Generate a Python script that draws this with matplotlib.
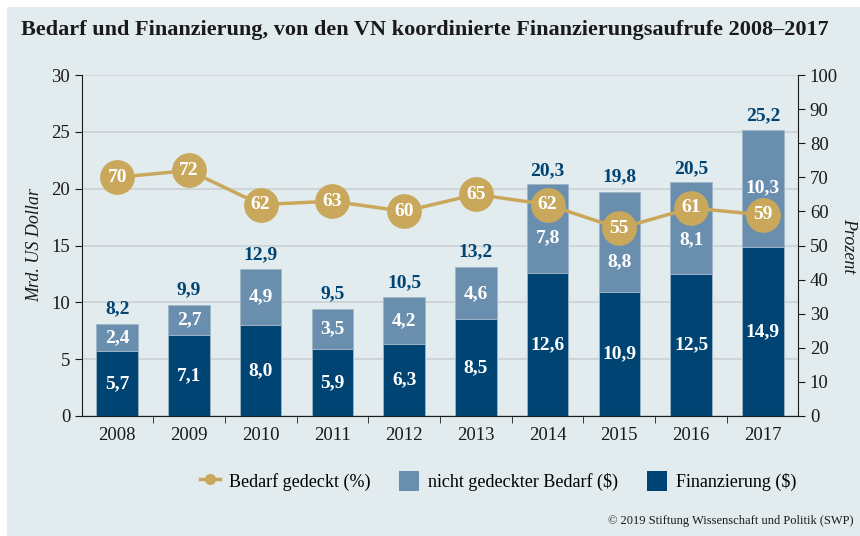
import numpy as np
import matplotlib.pyplot as plt
from matplotlib.patches import Rectangle
from matplotlib.lines import Line2D
from matplotlib.patches import Patch

years = ["2008", "2009", "2010", "2011", "2012", "2013", "2014", "2015", "2016", "2017"]
finanzierung = [5.7, 7.1, 8.0, 5.9, 6.3, 8.5, 12.6, 10.9, 12.5, 14.9]
ungedeckt = [2.4, 2.7, 4.9, 3.5, 4.2, 4.6, 7.8, 8.8, 8.1, 10.3]
bedarf = [8.2, 9.9, 12.9, 9.5, 10.5, 13.2, 20.3, 19.8, 20.5, 25.2]
gedeckt = [70, 72, 62, 63, 60, 65, 62, 55, 61, 59]

BG = "#e2ebee"
NAVY = "#004474"
LIGHT = "#6a8fae"
GOLD = "#c9a85c"
TXT = "#1a1a1a"

# labels of the light segment pushed down where a circle sits on them
label_shift = {6: -0.8, 7: -1.7, 8: -1.0}

plt.rcParams["font.family"] = ["Liberation Serif", "DejaVu Serif"]

def de(v):
    return f"{v:.1f}".replace(".", ",")

fig = plt.figure(figsize=(8.6, 5.36), dpi=100)
fig.patch.set_facecolor("white")
fig.patches.append(Rectangle((7 / 860, 0), 1, 1 - 7 / 536, transform=fig.transFigure,
                             facecolor=BG, edgecolor="none", zorder=-10))

ax = fig.add_axes([82 / 860, 120 / 536, 716 / 860, 341 / 536])
ax.set_facecolor("none")
x = np.arange(len(years))
w = 0.58

ax.bar(x, finanzierung, w, color=NAVY, edgecolor="#9fb6c8", linewidth=0.6, zorder=2)
ax.bar(x, ungedeckt, w, bottom=finanzierung, color=LIGHT, edgecolor="#9fb6c8", linewidth=0.6, zorder=2)

ax.set_xlim(-0.49, len(years) - 0.51)
ax.set_ylim(0, 30)
ax.set_yticks(range(0, 31, 5))
ax.yaxis.grid(True, color="#c9d1d5", linewidth=1.2, zorder=0)
ax.set_axisbelow(True)
ax.set_xticks(x)
ax.set_xticklabels(years)
ax.set_xticks(np.arange(0.5, len(years) - 1, 1), minor=True)
ax.tick_params(axis="x", which="major", length=0, labelsize=13.5, pad=8, colors=TXT)
ax.tick_params(axis="x", which="minor", length=5, color=TXT)
ax.tick_params(axis="y", length=5, labelsize=13.5, colors=TXT)
for s in ["top", "right"]:
    ax.spines[s].set_visible(False)
ax.spines["left"].set_color(TXT)
ax.spines["bottom"].set_color(TXT)
ax.set_ylabel("Mrd. US Dollar", fontsize=13, style="italic", color=TXT, labelpad=6)

ax2 = ax.twinx()
ax2.set_ylim(0, 100)
ax2.set_yticks(range(0, 101, 10))
ax2.plot(x, gedeckt, color=GOLD, linewidth=2.5, marker="o", markersize=24, zorder=4)
for i in range(len(years)):
    ax2.text(x[i], gedeckt[i], str(gedeckt[i]), ha="center", va="center",
             color="white", fontsize=14, fontweight="bold", zorder=5)
for s in ["top", "left", "bottom"]:
    ax2.spines[s].set_visible(False)
ax2.spines["right"].set_color(TXT)
ax2.tick_params(axis="y", length=5, labelsize=13.5, colors=TXT)
ax2.set_ylabel("Prozent", fontsize=13, style="italic", color=TXT, rotation=270, labelpad=14)

# bar labels drawn on the top axes so the line does not cover them
for i in range(len(years)):
    ax2.text(x[i], finanzierung[i] / 2, de(finanzierung[i]), ha="center", va="center",
             color="white", fontsize=14, fontweight="bold", zorder=6, transform=ax.transData)
    ax2.text(x[i], finanzierung[i] + ungedeckt[i] / 2 + label_shift.get(i, 0), de(ungedeckt[i]),
             ha="center", va="center", color="white", fontsize=14, fontweight="bold",
             zorder=6, transform=ax.transData)
    ax2.text(x[i], bedarf[i] + 0.5, de(bedarf[i]), ha="center", va="bottom",
             color=NAVY, fontsize=14, fontweight="bold", zorder=6, transform=ax.transData)

fig.text(21 / 860, 1 - 30 / 536, "Bedarf und Finanzierung, von den VN koordinierte Finanzierungsaufrufe 2008–2017",
         fontsize=16, fontweight="bold", va="center", ha="left", color=TXT)

handles = [
    Line2D([0], [0], color=GOLD, linewidth=2.5, marker="o", markersize=7),
    Patch(facecolor=LIGHT),
    Patch(facecolor=NAVY),
]
labels = ["Bedarf gedeckt (%)", "nicht gedeckter Bedarf ($)", "Finanzierung ($)"]
fig.legend(handles, labels, loc="center", bbox_to_anchor=(498 / 860, 1 - 481 / 536), ncol=3,
           frameon=False, fontsize=13, handlelength=1.1, handleheight=1.3, columnspacing=1.6,
           handletextpad=0.5)

fig.text(853 / 860, 1 - 521 / 536, "© 2019 Stiftung Wissenschaft und Politik (SWP)",
         fontsize=9, ha="right", va="center", color=TXT)

fig.savefig("out.png", dpi=100, facecolor=fig.get_facecolor())
